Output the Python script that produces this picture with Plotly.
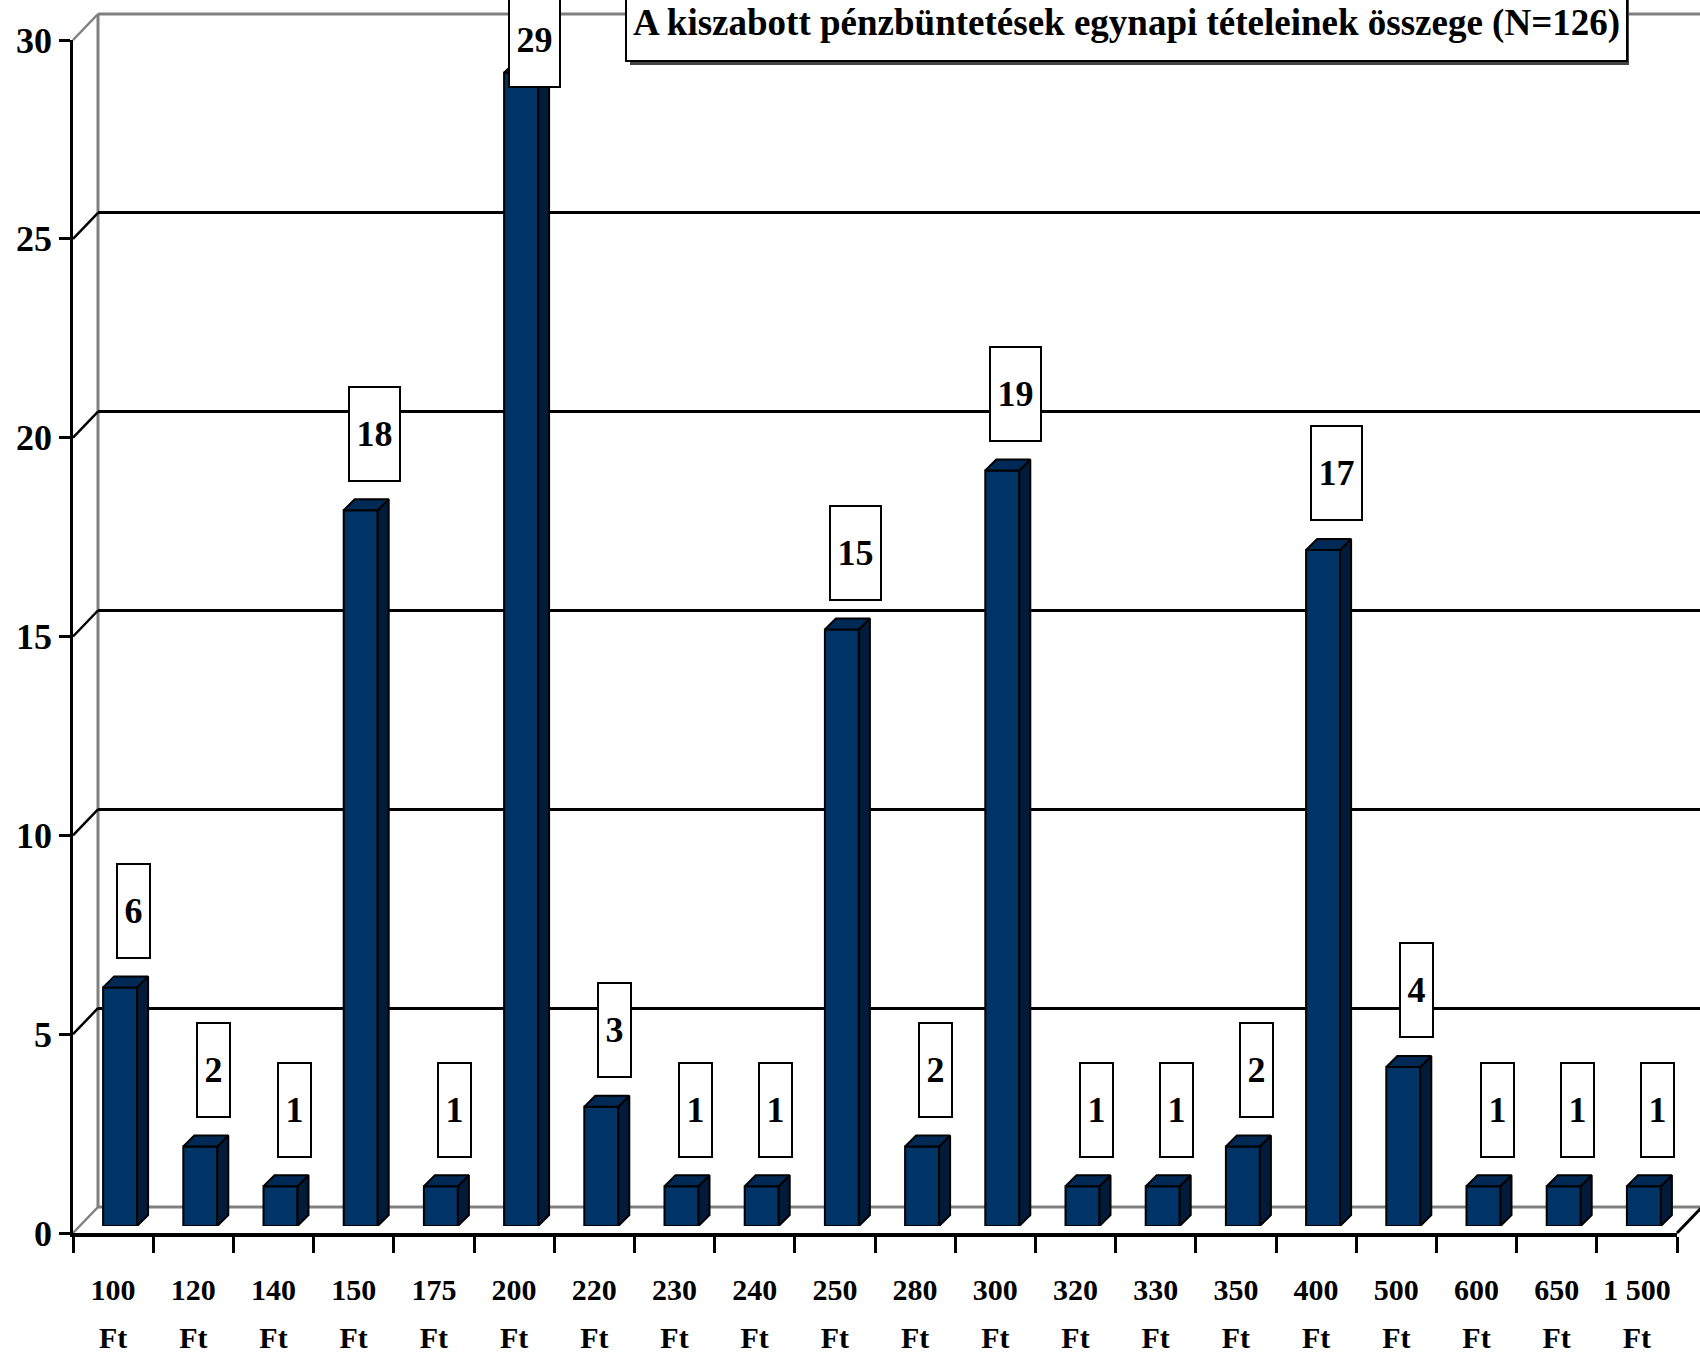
import numpy as np
import plotly.graph_objects as go

# ---------------- data ----------------
categories = ["100", "120", "140", "150", "175", "200", "220", "230", "240", "250",
              "280", "300", "320", "330", "350", "400", "500", "600", "650", "1 500"]
values = [6, 2, 1, 18, 1, 29, 3, 1, 1, 15, 2, 19, 1, 1, 2, 17, 4, 1, 1, 1]
unit = "Ft"
y_ticks = [0, 5, 10, 15, 20, 25, 30]
title_text = "A kiszabott pénzbüntetések egynapi tételeinek összege (N=126)"

# ---------------- geometry (px) ----------------
W, H = 1700, 1355
FX0, FX1 = 73, 1677          # front axis x extent
FY_TOP, FY_BOT = 40, 1233    # front axis y (30 and 0)
BACK_DX, BACK_DY = 25, -26   # back wall offset
BAR_DX, BAR_DY = 7, -7       # bar plane offset
DEPTH = 11                   # 3D depth of bars
YMAX = 30
FONT = "Liberation Serif"

n = len(categories)
idx = np.arange(n)


def px(x):
    return x / W


def py(y):
    return 1 - y / H


cat_w = (FX1 - FX0) / n
unit_h = (FY_BOT - FY_TOP) / YMAX
bar_w = 34 / cat_w
ddx = DEPTH / cat_w
ddy = DEPTH / unit_h

FRONT = "#003366"
SIDE = "#021b3b"
TOP = "#002a55"
GRAY = "#808080"

fig = go.Figure()

# back wall placeholder trace
fig.add_trace(go.Scatter(x=[0], y=[0], xaxis="x", yaxis="y", mode="markers",
                         marker=dict(opacity=0), hoverinfo="skip", showlegend=False))
# front axes placeholders
for xa in ["x2", "x4", "x5"]:
    fig.add_trace(go.Scatter(x=[0], y=[0], xaxis=xa, yaxis="y2", mode="markers",
                             marker=dict(opacity=0), hoverinfo="skip", showlegend=False))

# bars: front face
fig.add_trace(go.Bar(x=idx, y=values, width=bar_w, xaxis="x3", yaxis="y3",
                     marker=dict(color=FRONT, line=dict(color="black", width=2)),
                     hoverinfo="skip", showlegend=False))

# side + top faces
sx, sy, tx, ty = [], [], [], []
for i, v in zip(idx, values):
    xl, xr = i - bar_w / 2, i + bar_w / 2
    sx += [xr, xr + ddx, xr + ddx, xr, xr, None]
    sy += [0, ddy, v + ddy, v, 0, None]
    tx += [xl, xl + ddx, xr + ddx, xr, xl, None]
    ty += [v, v + ddy, v + ddy, v, v, None]
fig.add_trace(go.Scatter(x=sx, y=sy, xaxis="x3", yaxis="y3", mode="lines", fill="toself",
                         fillcolor=SIDE, line=dict(color="black", width=2),
                         hoverinfo="skip", showlegend=False))
fig.add_trace(go.Scatter(x=tx, y=ty, xaxis="x3", yaxis="y3", mode="lines", fill="toself",
                         fillcolor=TOP, line=dict(color="black", width=2),
                         hoverinfo="skip", showlegend=False))

# ---------------- shapes (frame) ----------------
shapes = []
bx0 = FX0 + BACK_DX
by_top = FY_TOP + BACK_DY
by_bot = FY_BOT + BACK_DY
# back wall edges
shapes.append(dict(type="line", xref="paper", yref="paper", x0=px(bx0), x1=px(bx0),
                   y0=py(by_top), y1=py(by_bot), line=dict(color=GRAY, width=3), layer="below"))
shapes.append(dict(type="line", xref="paper", yref="paper", x0=px(bx0), x1=1,
                   y0=py(by_top), y1=py(by_top), line=dict(color=GRAY, width=3), layer="below"))
shapes.append(dict(type="line", xref="paper", yref="paper", x0=px(bx0), x1=1,
                   y0=py(by_bot), y1=py(by_bot), line=dict(color=GRAY, width=3), layer="below"))
# side wall diagonals
for t in y_ticks:
    col = GRAY if t in (0, YMAX) else "black"
    shapes.append(dict(type="line", xref="paper", yref="paper",
                       x0=px(FX0), y0=py(FY_BOT - t * unit_h),
                       x1=px(bx0), y1=py(by_bot - t * unit_h),
                       line=dict(color=col, width=2.5), layer="below"))
# right floor diagonal
shapes.append(dict(type="line", xref="paper", yref="paper",
                   x0=px(FX1), y0=py(FY_BOT), x1=px(FX1 + BACK_DX), y1=py(by_bot),
                   line=dict(color="black", width=3)))
# title shadow
TB_L, TB_R, TB_B = 627, 1626, 62
shapes.append(dict(type="rect", xref="paper", yref="paper",
                   x0=px(TB_L + 3), x1=px(TB_R + 3), y0=py(TB_B + 3), y1=py(-40),
                   fillcolor="#444444", line=dict(width=0), layer="above"))

# ---------------- annotations ----------------
annotations = []
for i, v in zip(idx, values):
    s = str(v)
    annotations.append(dict(
        xref="x2", yref="y2", x=i + 0.256, y=min(v + 2.1, YMAX),
        text=s, showarrow=False, xanchor="center", yanchor="middle",
        font=dict(family=FONT, size=36, color="black", weight="bold"),
        bgcolor="white", bordercolor="black", borderwidth=2, borderpad=0,
        width=13 + 18 * len(s), height=92))

annotations.append(dict(
    xref="paper", yref="paper", x=px((TB_L + TB_R) / 2), y=py(TB_B),
    xanchor="center", yanchor="bottom", text=title_text, showarrow=False,
    font=dict(family=FONT, size=37, color="black", weight="bold"),
    bgcolor="white", bordercolor="black", borderwidth=2, borderpad=0,
    width=TB_R - TB_L, height=74, valign="middle"))

noax = dict(showgrid=False, zeroline=False, showticklabels=False, ticks="",
            showline=False, automargin=False)

fig.update_layout(
    width=W, height=H, margin=dict(l=0, r=0, t=0, b=0, pad=0, autoexpand=False),
    paper_bgcolor="white", plot_bgcolor="rgba(0,0,0,0)",
    showlegend=False, barmode="overlay",
    shapes=shapes, annotations=annotations,
    # back wall
    xaxis=dict(domain=[px(bx0), 1], range=[0, 1], anchor="y", **noax),
    yaxis=dict(domain=[py(by_bot), py(by_top)], range=[0, YMAX], anchor="x",
               tickvals=y_ticks[1:-1], showgrid=True, gridcolor="black", gridwidth=2.5,
               zeroline=False, showticklabels=False, ticks="", showline=False,
               automargin=False),
    # front axes
    xaxis2=dict(domain=[px(FX0), px(FX1)], range=[-0.5, n - 0.5], anchor="y2",
                tickmode="array", tickvals=list(idx - 0.5) + [n - 0.5],
                ticks="outside", ticklen=16, tickwidth=2.5, tickcolor="black",
                showline=True, linecolor="black", linewidth=3.5,
                showticklabels=False, showgrid=False, zeroline=False, automargin=False),
    yaxis2=dict(domain=[py(FY_BOT), py(FY_TOP)], range=[0, YMAX], anchor="x2",
                tickmode="array", tickvals=y_ticks,
                ticks="outside", ticklen=11, tickwidth=2.5, tickcolor="black",
                showline=True, linecolor="black", linewidth=2.5,
                tickfont=dict(family=FONT, size=36, color="black", weight="bold"),
                showgrid=False, zeroline=False, automargin=False),
    xaxis4=dict(overlaying="x2", anchor="y2", side="bottom", range=[-0.5, n - 0.5],
                tickmode="array", tickvals=list(idx), ticktext=categories,
                ticks="", showline=False, showgrid=False, zeroline=False,
                ticklabelstandoff=36, automargin=False,
                tickfont=dict(family=FONT, size=30, color="black", weight="bold")),
    xaxis5=dict(overlaying="x2", anchor="y2", side="bottom", range=[-0.5, n - 0.5],
                tickmode="array", tickvals=list(idx), ticktext=[unit] * n,
                ticks="", showline=False, showgrid=False, zeroline=False,
                ticklabelstandoff=84, automargin=False,
                tickfont=dict(family=FONT, size=30, color="black", weight="bold")),
    # bars plane
    xaxis3=dict(domain=[px(FX0 + BAR_DX), px(FX1 + BAR_DX)], range=[-0.5, n - 0.5],
                anchor="y3", **noax),
    yaxis3=dict(domain=[py(FY_BOT + BAR_DY), py(FY_TOP + BAR_DY)], range=[0, YMAX],
                anchor="x3", **noax),
)

fig.write_html("out.html", config={"displayModeBar": False},
               post_script="document.body.style.margin='0';document.body.style.overflow='hidden';")
